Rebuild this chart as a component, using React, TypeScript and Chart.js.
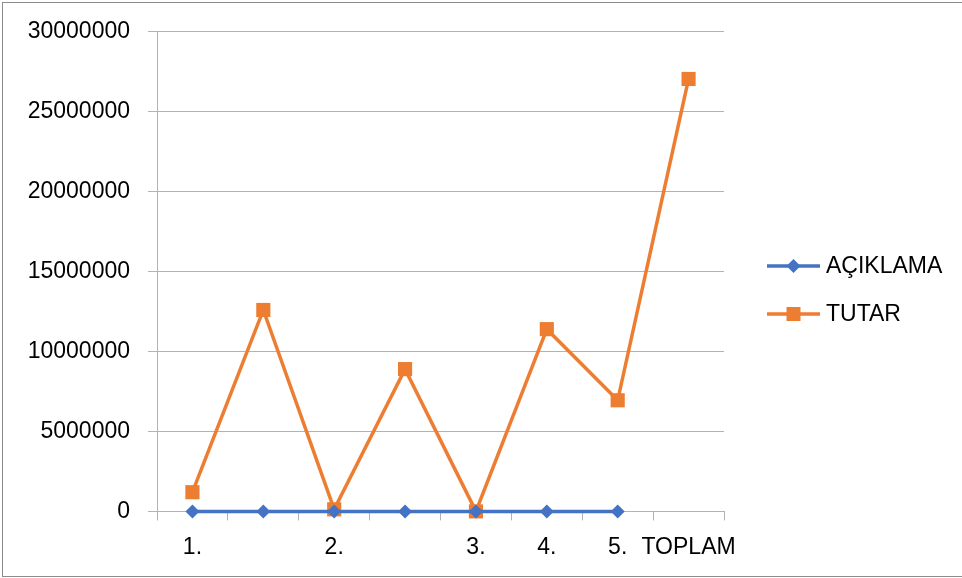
import React, { useEffect, useRef } from "react";
import { Chart, registerables } from "chart.js";

Chart.register(...registerables);

const categories = ["1.", "", "2.", "", "3.", "4.", "5.", "TOPLAM"];
const aciklama = [0, 0, 0, 0, 0, 0, 0, null];
const tutar = [1200000, 12600000, 130000, 8900000, 0, 11400000, 6950000, 27050000];
const yTicks = [0, 5000000, 10000000, 15000000, 20000000, 25000000, 30000000];

const FONT = "'Liberation Sans', Arial, sans-serif";
const BLUE = "#4472C4";
const ORANGE = "#ED7D31";
const GRID = "#b3b3b3";
const FS = 23;

const legendPlugin = {
  id: "customLegend",
  afterDraw(chart: any) {
    const ctx = chart.ctx;
    const items = [
      { label: "AÇIKLAMA", color: BLUE, style: "rectRot", r: 7, y: 266 },
      { label: "TUTAR", color: ORANGE, style: "rect", r: 7, y: 314 },
    ];
    ctx.save();
    items.forEach((it) => {
      const x0 = 767;
      const x1 = 820;
      ctx.strokeStyle = it.color;
      ctx.lineWidth = 3.5;
      ctx.beginPath();
      ctx.moveTo(x0, it.y);
      ctx.lineTo(x1, it.y);
      ctx.stroke();
      ctx.fillStyle = it.color;
      const cx = (x0 + x1) / 2;
      if (it.style === "rect") {
        ctx.fillRect(cx - 7, it.y - 7, 14, 14);
      } else {
        ctx.beginPath();
        ctx.moveTo(cx, it.y - it.r);
        ctx.lineTo(cx + it.r, it.y);
        ctx.lineTo(cx, it.y + it.r);
        ctx.lineTo(cx - it.r, it.y);
        ctx.closePath();
        ctx.fill();
      }
      ctx.fillStyle = "#000";
      ctx.font = `${FS}px ${FONT}`;
      ctx.textBaseline = "middle";
      ctx.textAlign = "left";
      ctx.fillText(it.label, 826, it.y + 1);
    });
    ctx.restore();
  },
};

export default function App() {
  const ref = useRef<HTMLCanvasElement>(null);
  useEffect(() => {
    if (!ref.current) return;
    const chart = new Chart(ref.current, {
      type: "line",
      data: {
        labels: categories,
        datasets: [
          {
            label: "AÇIKLAMA",
            data: aciklama,
            borderColor: BLUE,
            backgroundColor: BLUE,
            borderWidth: 3.5,
            pointStyle: "rectRot",
            pointRadius: 7,
            pointBorderWidth: 0,
            tension: 0,
            clip: false,
          },
          {
            label: "TUTAR",
            data: tutar,
            borderColor: ORANGE,
            backgroundColor: ORANGE,
            borderWidth: 3.5,
            pointStyle: "rect",
            pointRadius: 10,
            pointBorderWidth: 0,
            tension: 0,
            clip: false,
          },
        ],
      },
      options: {
        animation: false,
        responsive: false,
        layout: { padding: { left: 0, right: 238, top: 20, bottom: 4 } },
        plugins: {
          legend: { display: false },
          tooltip: { enabled: false },
        },
        scales: {
          x: {
            offset: true,
            grid: {
              offset: true,
              drawOnChartArea: false,
              drawTicks: true,
              tickLength: 9,
              color: GRID,
              lineWidth: 1,
            },
            border: { color: GRID, width: 1 },
            ticks: {
              autoSkip: false,
              maxRotation: 0,
              color: "#000",
              font: { family: FONT, size: FS },
              padding: 13,
            },
          },
          y: {
            min: 0,
            max: 30000000,
            afterBuildTicks: (axis: any) => {
              axis.ticks = yTicks.map((v) => ({ value: v }));
            },
            afterFit: (axis: any) => {
              axis.width = 157;
            },
            grid: {
              color: GRID,
              lineWidth: 1,
              drawTicks: true,
              tickLength: 9,
            },
            border: { color: GRID, width: 1 },
            ticks: {
              color: "#000",
              font: { family: FONT, size: FS },
              padding: 18,
              callback: (v: any) => String(v),
            },
          },
        },
      } as any,
      plugins: [legendPlugin],
    });
    return () => chart.destroy();
  }, []);
  return (
    <div style={{ position: "fixed", left: 0, top: 0, width: 962, height: 578, background: "#fff" }}>
      <canvas ref={ref} width={962} height={578} style={{ position: "absolute", left: 0, top: 0 }} />
      <div
        style={{
          position: "absolute",
          left: 2,
          top: 2,
          width: 1000,
          height: 575,
          border: "1px solid #8c8c8c",
          boxSizing: "border-box",
          pointerEvents: "none",
        }}
      />
    </div>
  );
}
